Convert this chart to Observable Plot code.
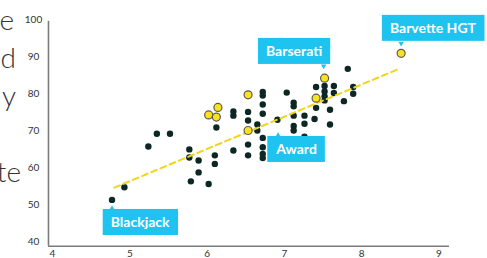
<!DOCTYPE html>
<html><head><meta charset="utf-8">
<script src="https://cdn.jsdelivr.net/npm/d3@7"></script>
<script src="https://cdn.jsdelivr.net/npm/@observablehq/plot@0.6"></script>
<style>
html,body{margin:0;padding:0;background:#fff;}
#wrap{position:relative;width:487px;height:258px;overflow:hidden;}
#chart{position:absolute;left:0;top:0;}
#side{position:absolute;left:-120px;top:0;width:141px;text-align:right;font-family:Lato,sans-serif;font-weight:300;font-size:28px;line-height:38px;color:#333;z-index:2;white-space:pre;}
#side div{height:38px;}
</style></head><body>
<div id="wrap"><div id="chart"></div><div id="side"><div style="margin-right:7px">e</div><div style="margin-right:5px">d</div><div style="margin-right:5px">y</div><div></div><div>te</div></div></div>
<script>
// ---- data ----
const xTicks = [4, 5, 6, 7, 8, 9];
const yTicks = [40, 50, 60, 70, 80, 90, 100];

// regular cars (dark dots)
const dotX = [4.77, 4.93, 5.24, 5.35, 5.52, 5.77, 5.77, 5.89, 5.89, 5.79, 6.02, 6.10, 6.10, 6.12,
  6.34, 6.34, 6.34, 6.53, 6.53, 6.53, 6.53, 6.65, 6.65, 6.72, 6.72, 6.72, 6.72, 6.72, 6.72, 6.72, 6.72,
  6.91, 7.03, 7.12, 7.12, 7.12, 7.12, 7.12, 7.26, 7.26, 7.26, 7.39, 7.41, 7.41, 7.52, 7.52, 7.52, 7.52,
  7.59, 7.59, 7.64, 7.64, 7.77, 7.82, 7.89, 7.89];
const dotY = [51.4, 54.8, 65.8, 69.2, 69.2, 65.0, 62.8, 62.0, 58.8, 56.4, 55.7, 63.4, 61.1, 70.9,
  75.2, 74.1, 64.7, 75.1, 72.8, 66.3, 63.4, 71.7, 70.1, 80.5, 79.5, 77.1, 74.6, 68.1, 65.6, 63.8, 62.7,
  73.0, 80.3, 77.6, 76.6, 74.1, 71.3, 70.1, 74.1, 71.9, 68.4, 73.2, 81.8, 76.2, 82.1, 80.6, 79.3, 78.2,
  75.7, 71.7, 82.1, 80.2, 78.0, 86.7, 81.8, 80.0];

// highlighted cars (yellow dots)
const hiX = [6.53, 6.14, 6.02, 6.12, 6.53, 7.52, 7.41, 8.51];
const hiY = [79.7, 76.3, 74.3, 73.7, 70.1, 84.2, 78.8, 90.9];

// trend line
const trendX = [4.80, 8.46];
const trendY = [54.7, 86.5];

// annotations
const labelName = ["Barvette HGT", "Barserati", "Award", "Blackjack"];
const labelX = [8.51, 7.52, 6.53, 4.77];
const labelY = [90.9, 84.2, 70.1, 51.4];

// ---- chart ----
const boxColor = "#1ec3f0";
const dots = dotX.map((x, i) => ({x, y: dotY[i]}));
const his = hiX.map((x, i) => ({x, y: hiY[i]}));
const trend = trendX.map((x, i) => ({x, y: trendY[i]}));
const labels = labelName.map((name, i) => ({name, x: labelX[i], y: labelY[i]}));

// placement of each callout relative to its point
const place = [
  {dx: 31.8, dy: -24.4, pdx: 0, pdy: -10, rot: 180},
  {dx: -30.5, dy: -26.2, pdx: -1, pdy: -12, rot: 180},
  {dx: 48.5, dy: 19.5, pdx: 30, pdy: 5, rot: 0},
  {dx: 28.1, dy: 23.1, pdx: 0, pdy: 8.5, rot: 0}
];

const chart = Plot.plot({
  width: 487,
  height: 258,
  marginLeft: 52,
  marginRight: 48.5,
  marginTop: 19,
  marginBottom: 16.3,
  x: {domain: [4, 9], label: null},
  y: {domain: [40, 100], label: null},
  style: {fontFamily: "Lato, sans-serif", fontSize: "10px", color: "#333", background: "transparent"},
  marks: [
    Plot.ruleX([3.948], {y1: 38.92, y2: 99.5, stroke: "#7a7a7a", strokeWidth: 1.6}),
    Plot.ruleY([38.92], {x1: 3.948, x2: 9.136, stroke: "#7a7a7a", strokeWidth: 1.6}),
    Plot.axisX(xTicks, {tickSize: 0, tickPadding: 8, fill: "#333", fontSize: 10, label: null}),
    Plot.axisY(yTicks, {tickSize: 0, tickPadding: 19, textAnchor: "middle", fill: "#333", fontSize: 10, label: null}),
    Plot.dot(dots, {x: "x", y: "y", r: 3.2, fill: "#0d2824", stroke: "none"}),
    Plot.line(trend, {x: "x", y: "y", stroke: "#f2d516", strokeWidth: 2, strokeDasharray: "6,4"}),
    Plot.dot(his, {x: "x", y: "y", r: 4, fill: "#fbe21c", stroke: "#5a5a5a", strokeWidth: 1.2}),
    ...labels.map((d, i) => Plot.dot([d], {x: "x", y: "y", symbol: "triangle", r: 2, fill: boxColor, stroke: "none",
      rotate: place[i].rot, dx: place[i].pdx, dy: place[i].pdy})),
    ...labels.map((d, i) => Plot.text([d], {x: "x", y: "y", text: "name", fill: "white", fontWeight: "bold",
      fontSize: 14, fontFamily: "Lato, sans-serif", dx: place[i].dx, dy: place[i].dy}))
  ]
});
document.getElementById("chart").append(chart);

// callout boxes behind label texts
d3.select(chart).selectAll('g[aria-label="text"] text').each(function() {
  const b = this.getBBox();
  const padX = 8, h = 26;
  const cy = b.y + b.height / 2;
  const r = document.createElementNS("http://www.w3.org/2000/svg", "rect");
  r.setAttribute("x", b.x - padX);
  r.setAttribute("y", cy - h / 2);
  r.setAttribute("width", b.width + 2 * padX);
  r.setAttribute("height", h);
  r.setAttribute("fill", boxColor);
  r.setAttribute("stroke", "none");
  const t = this.getAttribute("transform");
  if (t) r.setAttribute("transform", t);
  this.parentNode.insertBefore(r, this);
});
</script>
</body></html>
